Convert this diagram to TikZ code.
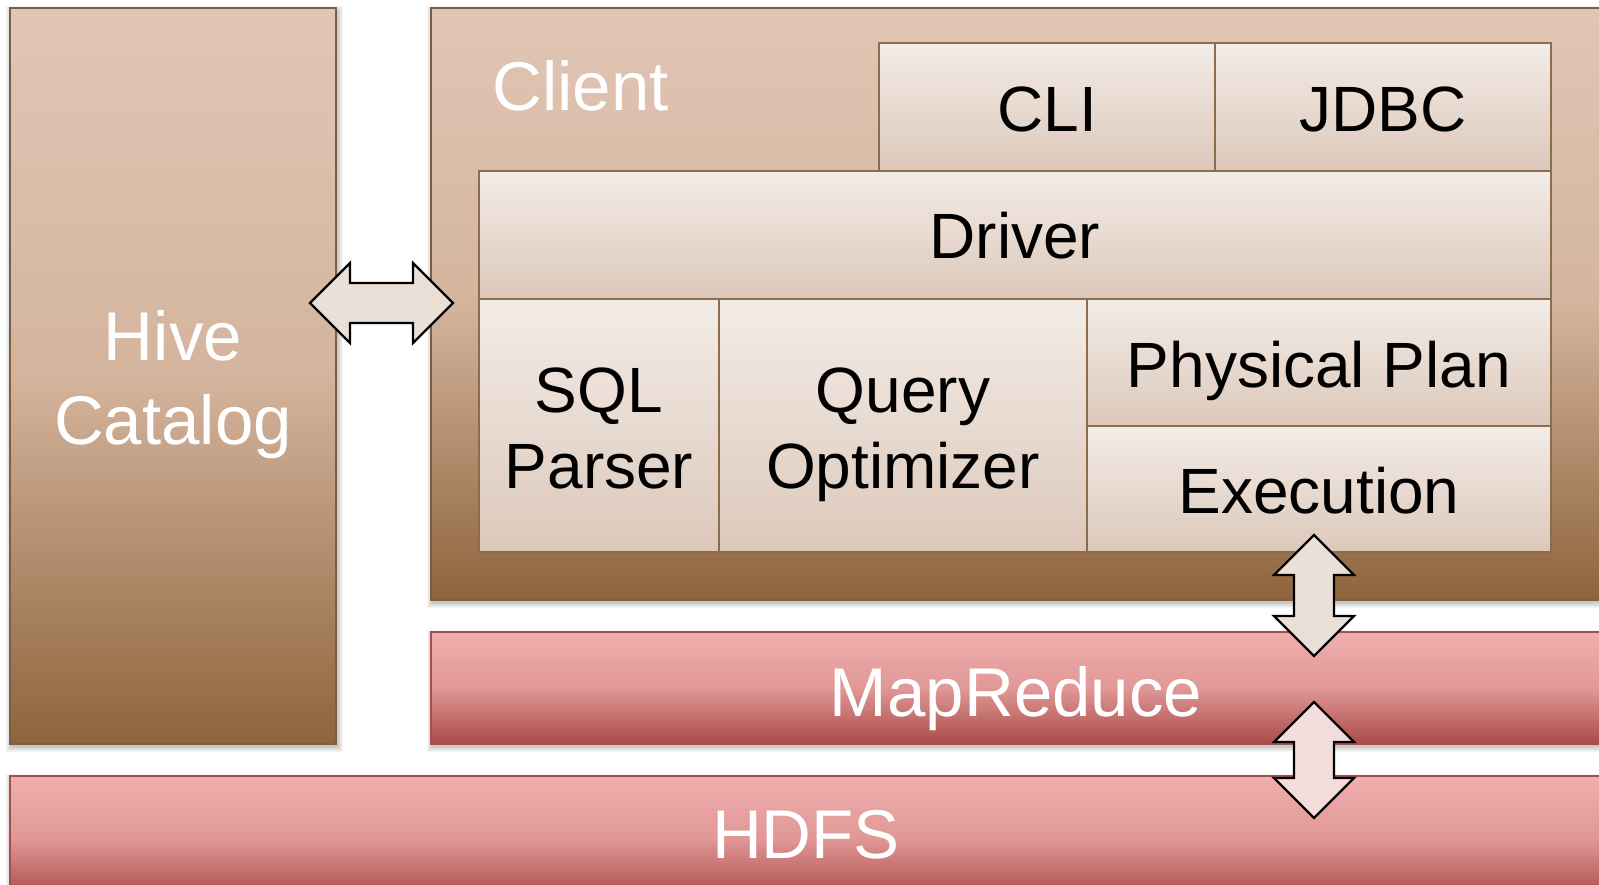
\documentclass[tikz,border=0pt]{standalone}
\usepackage{fontspec}
\setmainfont{Liberation Sans}
\definecolor{tanTop}{RGB}{225,198,181}
\definecolor{tanMid}{RGB}{212,180,157}
\definecolor{tanBot}{RGB}{142,100,60}
\definecolor{tanLine}{RGB}{125,95,65}
\definecolor{inTop}{RGB}{243,236,231}
\definecolor{inBot}{RGB}{220,200,186}
\definecolor{inLine}{RGB}{139,109,78}
\definecolor{pkTop}{RGB}{239,175,173}
\definecolor{pkMid}{RGB}{224,152,150}
\definecolor{pkBot}{RGB}{168,74,72}
\definecolor{pkLine}{RGB}{165,78,78}
\definecolor{arFill}{RGB}{234,224,215}
\definecolor{arFillB}{RGB}{242,220,220}
\begin{document}
\begin{tikzpicture}[x=1pt,y=-1pt,
  box/.style={rectangle, inner sep=0pt, outer sep=0pt, anchor=north west},
  tanbox/.style={box, draw=tanLine, line width=1.5pt, top color=tanTop, bottom color=tanBot, middle color=tanMid},
  inbox/.style={box, draw=inLine, line width=1.3pt, top color=inTop, bottom color=inBot},
  pinkbox/.style={box, draw=pkLine, line width=1.5pt, top color=pkTop, bottom color=pkBot, middle color=pkMid},
  blackt/.style={inner sep=0pt, anchor=base, font=\fontsize{64}{76}\selectfont, text=black},
  whitet/.style={inner sep=0pt, anchor=base, font=\fontsize{69}{82}\selectfont, text=white},
  blockarrow/.style={draw=black, line width=2.2pt, line join=miter}]
\useasboundingbox (0,0) rectangle (1599,885);
\clip (0,0) rectangle (1599,885);
% soft shadows
\foreach \xa/\ya/\xb/\yb in {10/8/336/744, 431/8/1620/600, 431/632/1620/744, 10/776/1620/900}{
  \foreach \k in {0,...,5}{
    \fill[black, opacity=0.04] ({\xa+1-\k},{\ya+3-\k}) rectangle ({\xb+2+\k},{\yb+3+\k});
  }
}
% outer boxes
\node[tanbox, minimum width=326pt, minimum height=736pt] (hive) at (10,8) {};
\node[tanbox, minimum width=1189pt, minimum height=592pt] (client) at (431,8) {};
\node[pinkbox, minimum width=1189pt, minimum height=112pt] (mapred) at (431,632) {};
\node[pinkbox, minimum width=1610pt, minimum height=124pt] (hdfs) at (10,776) {};
% inner boxes
\node[inbox, minimum width=336pt, minimum height=128pt] (cli) at (879,43) {};
\node[inbox, minimum width=336pt, minimum height=128pt] (jdbc) at (1215,43) {};
\node[inbox, minimum width=1072pt, minimum height=128pt] (driver) at (479,171) {};
\node[inbox, minimum width=240pt, minimum height=253pt] (sql) at (479,299) {};
\node[inbox, minimum width=368pt, minimum height=253pt] (qopt) at (719,299) {};
\node[inbox, minimum width=464pt, minimum height=127pt] (phys) at (1087,299) {};
\node[inbox, minimum width=464pt, minimum height=126pt] (exec) at (1087,426) {};
% texts
\node[whitet] (hiveA) at (173,361) {Hive};
\node[whitet] (hiveB) at (173,444) {Catalog};
\node[whitet, anchor=base west] (clientT) at (492,111) {Client};
\node[blackt] (cliT) at (1047,132) {CLI};
\node[blackt] (jdbcT) at (1383,132) {JDBC};
\node[blackt] (driverT) at (1015,259) {Driver};
\node[blackt] (sqlA) at (599,412) {SQL};
\node[blackt] (sqlB) at (599,488) {Parser};
\node[blackt] (qoptA) at (903,412) {Query};
\node[blackt] (qoptB) at (903,488) {Optimizer};
\node[blackt] (physT) at (1319,388) {Physical Plan};
\node[blackt] (execT) at (1319,513) {Execution};
\node[whitet] (mapredT) at (1016,716) {MapReduce};
\node[whitet] (hdfsT) at (806,858) {HDFS};
% block arrows
\draw[blockarrow, fill=arFill] (310,303) -- (350,263) -- (350,283) -- (413,283) -- (413,263)
  -- (453,303) -- (413,343) -- (413,323) -- (350,323) -- (350,343) -- cycle;
\draw[blockarrow, fill=arFill] (1314,535) -- (1354,575) -- (1334,575) -- (1334,616) -- (1354,616)
  -- (1314,656) -- (1274,616) -- (1294,616) -- (1294,575) -- (1274,575) -- cycle;
\draw[blockarrow, fill=arFillB] (1314,702) -- (1354,742) -- (1334,742) -- (1334,778) -- (1354,778)
  -- (1314,818) -- (1274,778) -- (1294,778) -- (1294,742) -- (1274,742) -- cycle;
\end{tikzpicture}
\end{document}
